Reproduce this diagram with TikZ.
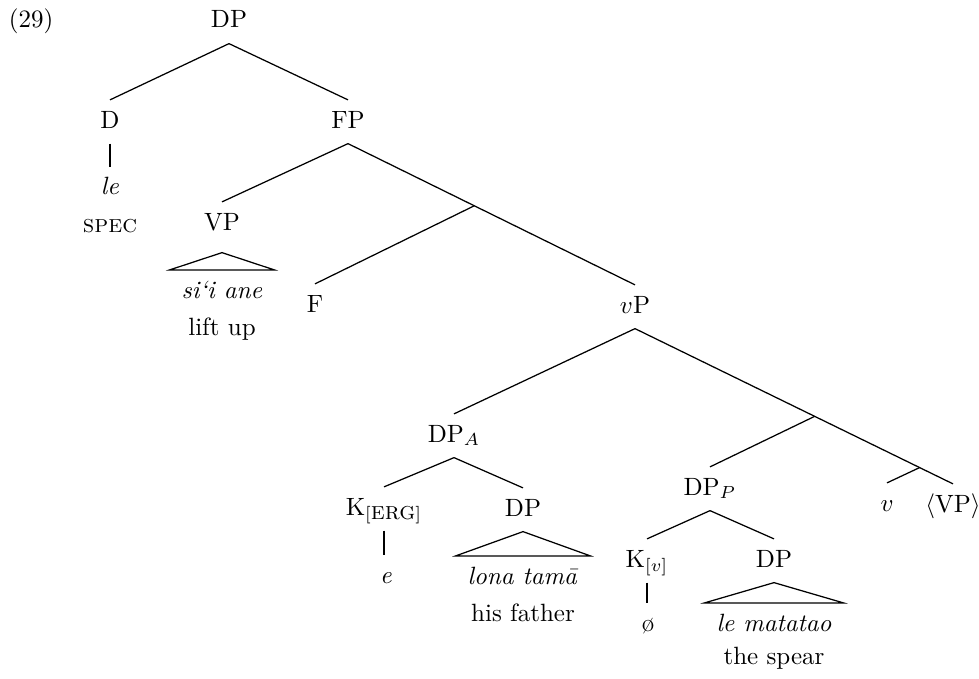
\documentclass[tikz,border=0pt]{standalone}
\usetikzlibrary{positioning}

\tikzset{
    tn/.style = {anchor = base, inner xsep = 2pt, inner ysep = 4pt, text height = 7pt, text depth = 2pt},
    roof/.style = {tn, inner xsep = 4.5pt},
}

\begin{document}
\begin{tikzpicture}[x = 0.4pt, y = -0.4pt, line width = 0.5pt, on grid]

    \useasboundingbox (0,0) rectangle (979,679);

    \node (ex) at (0,28) [anchor = base west] {(29)};

    % top of the tree
    \node (DP)  at (229,28)  [tn] {DP};
    \node (D)   at (110,128) [tn] {D};
    \node (FP)  at (348,128) [tn] {FP};
    \node (le)  at (110,195) [tn] {\textit{le}};
    \node (spec) [tn, below = 14.8pt of le] {\textsc{spec}};

    \node (VP)  at (222,230) [tn] {VP};
    \node (siiane) at (222,298) [roof] {\textit{si`i ane}};
    \node (liftup) [tn, below = 14.8pt of siiane] {lift up};

    \node (F)   at (315,312) [tn] {F};
    \node (vP)  at (635,313) [tn] {$v$P};

    % agent
    \node (DPA)  at (454,442) [tn] {DP$_A$};
    \node (Kerg) at (384,515) [tn] {K$_{[\textsc{erg}]}$};
    \node (DPl)  at (523,516) [tn] {DP};
    \node (e)    at (386,583) [tn] {\textit{e}};
    \node (lona) at (523,584) [roof] {\textit{lona tam\=a}};
    \node (father) [tn, below = 14.8pt of lona] {his father};

    % patient
    \node (DPP)  at (710,495) [tn] {DP$_P$};
    \node (Kv)   at (647,567) [tn] {K$_{[v]}$};
    \node (DPm)  at (774,567) [tn] {DP};
    \node (o)    at (648,631) [tn] {\o};
    \node (mat)  at (774,631) [roof] {\textit{le matatao}};
    \node (spear) [tn, below = 13.2pt of mat] {the spear};

    \node (v)    at (887,511) [tn] {$v$};
    \node (VPt)  at (953,512) [tn] {$\langle$VP$\rangle$};

    % branches
    \draw (DP.south) -- (D.north);
    \draw (DP.south) -- (FP.north);
    \draw (D.south) -- (le.north);
    \draw (FP.south) -- (VP.north);
    \draw (FP.south) -- (vP.north) coordinate[pos = .44] (Fbar);
    \draw (Fbar) -- (F.north);

    \draw (vP.south) -- (DPA.north);
    \draw (vP.south) -- (VPt.north) coordinate[pos = .565] (vbar) coordinate[pos = .895] (vhead);
    \draw (vbar) -- (DPP.north);
    \draw (vhead) -- (v.north);

    \draw (DPA.south) -- (Kerg.north);
    \draw (DPA.south) -- (DPl.north);
    \draw (Kerg.south) -- (Kerg.south |- e.north);

    \draw (DPP.south) -- (Kv.north);
    \draw (DPP.south) -- (DPm.north);
    \draw (Kv.south) -- (Kv.south |- o.north);

    % roofs
    \draw ([yshift = -2.8pt]VP.south) -- (siiane.north west) -- (siiane.north east) -- cycle;
    \draw (DPl.south) -- (lona.north west) -- (lona.north east) -- cycle;
    \draw (DPm.south) -- (mat.north west) -- (mat.north east) -- cycle;

\end{tikzpicture}
\end{document}
